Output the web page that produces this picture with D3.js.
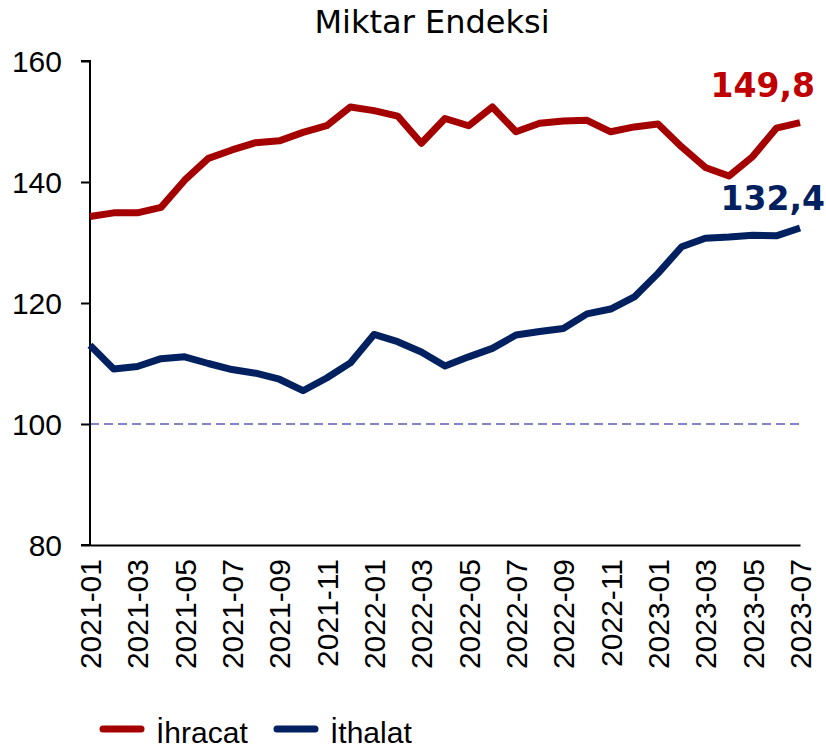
<!DOCTYPE html>
<html>
<head>
<meta charset="utf-8">
<script src="https://cdn.jsdelivr.net/npm/d3@7"></script>
<style>
  body { margin: 0; background: #fff; }
</style>
</head>
<body>
<div id="chart"></div>
<script>
var svgWidth = 826;
var svgHeight = 748;
var armFont = "Arial, 'Liberation Sans', Arimo, sans-serif";

// months 2021-01 .. 2023-07
var months = ["2021-01","2021-02","2021-03","2021-04","2021-05","2021-06","2021-07","2021-08","2021-09","2021-10","2021-11","2021-12",
  "2022-01","2022-02","2022-03","2022-04","2022-05","2022-06","2022-07","2022-08","2022-09","2022-10","2022-11","2022-12",
  "2023-01","2023-02","2023-03","2023-04","2023-05","2023-06","2023-07"];

var ihracat = [134.3, 134.9, 134.9, 135.8, 140.3, 143.9, 145.3, 146.5, 146.8, 148.2, 149.3, 152.4,
  151.8, 150.9, 146.4, 150.5, 149.3, 152.4, 148.3, 149.7, 150.1, 150.2, 148.3, 149.1,
  149.6, 145.8, 142.4, 141.0, 144.2, 148.9, 149.8];

var ithalat = [113.0, 109.1, 109.5, 110.8, 111.1, 110.0, 109.0, 108.4, 107.4, 105.5, 107.6, 110.1,
  114.8, 113.6, 111.9, 109.6, 111.1, 112.5, 114.7, 115.3, 115.8, 118.2, 119.0, 121.0,
  124.9, 129.3, 130.7, 130.9, 131.2, 131.1, 132.4];

var yTicks = [80, 100, 120, 140, 160];
var seriesNames = ["İhracat", "İthalat"];
var colors = ["#A50000", "#002060"];
var labelColors = ["#C00000", "#002060"];

// chart margins
var margin = { top: 61, right: 26, bottom: 203, left: 90 };
var char_width = svgWidth - margin.left - margin.right;
var char_height = svgHeight - margin.top - margin.bottom;

var SVG = d3.select("#chart")
  .append("svg")
  .attr("width", svgWidth)
  .attr("height", svgHeight);

// title
SVG.append("text")
  .attr("x", 432)
  .attr("y", 33)
  .attr("text-anchor", "middle")
  .style("font-family", "DejaVu Sans, sans-serif")
  .style("font-size", "32px")
  .style("fill", "#000")
  .text("Miktar Endeksi");

var char_group = SVG.append("g")
  .attr("transform", `translate(${margin.left}, ${margin.top})`);

var xScale = d3.scalePoint().domain(months).range([0, char_width]);
var yScale = d3.scaleLinear().domain([80, 160]).range([char_height, 0]);

// reference line at 100
char_group.append("line")
  .attr("x1", 0)
  .attr("x2", char_width)
  .attr("y1", yScale(100))
  .attr("y2", yScale(100))
  .style("stroke", "#5B5BB5")
  .style("stroke-width", 1.3)
  .style("stroke-dasharray", "9,5");

// y axis
var yAxis = d3.axisLeft(yScale).tickValues(yTicks).tickSize(9).tickPadding(19);
var yg = char_group.append("g").call(yAxis);
yg.select(".domain").attr("stroke", "#000").attr("stroke-width", 2).attr("d", `M-9,0H0V${char_height}H-9`);
yg.selectAll(".tick line").attr("stroke", "#000").attr("stroke-width", 2);
yg.selectAll("text").style("font-family", armFont).style("font-size", "30px").style("fill", "#000").attr("dy", "0.35em");

// x axis
var xAxis = d3.axisBottom(xScale)
  .tickValues(months.filter((d, i) => i % 2 === 0))
  .tickSize(0)
  .tickPadding(14);
var xg = char_group.append("g")
  .attr("transform", `translate(0, ${char_height})`)
  .call(xAxis);
xg.select(".domain").attr("stroke", "#000").attr("stroke-width", 2);
xg.selectAll("text")
  .style("font-family", armFont)
  .style("font-size", "30px")
  .style("fill", "#000")
  .attr("text-anchor", "end")
  .attr("transform", "rotate(-90)")
  .attr("x", -14)
  .attr("y", 0)
  .attr("dy", "0.35em");

// lines
var line = d3.line()
  .x((d, i) => xScale(months[i]))
  .y(d => yScale(d));

[ihracat, ithalat].forEach(function(s, k) {
  char_group.append("path")
    .datum(s)
    .attr("d", line)
    .style("fill", "none")
    .style("stroke", colors[k])
    .style("stroke-width", 7)
    .style("stroke-linejoin", "round");
});

// end labels
var last = months.length - 1;
[ihracat, ithalat].forEach(function(s, k) {
  char_group.append("text")
    .attr("x", xScale(months[last]) + 15 + k * 10)
    .attr("y", yScale(s[last]) - (k === 0 ? 26 : 18))
    .attr("text-anchor", "end")
    .style("font-family", "DejaVu Sans, sans-serif")
    .style("font-weight", "bold")
    .style("font-size", "33px")
    .style("fill", labelColors[k])
    .text(d3.format(".1f")(s[last]).replace(".", ","));
});

// legend
var legendX = [100, 274];
var legend = SVG.append("g");
seriesNames.forEach(function(name, k) {
  legend.append("line")
    .attr("x1", legendX[k] + 3)
    .attr("x2", legendX[k] + 41)
    .attr("y1", 729)
    .attr("y2", 729)
    .style("stroke", colors[k])
    .style("stroke-width", 7)
    .style("stroke-linecap", "round");
  legend.append("text")
    .attr("x", legendX[k] + 56)
    .attr("y", 743)
    .style("font-family", armFont)
    .style("font-size", "30px")
    .style("fill", "#000")
    .text(name);
});
</script>
</body>
</html>
